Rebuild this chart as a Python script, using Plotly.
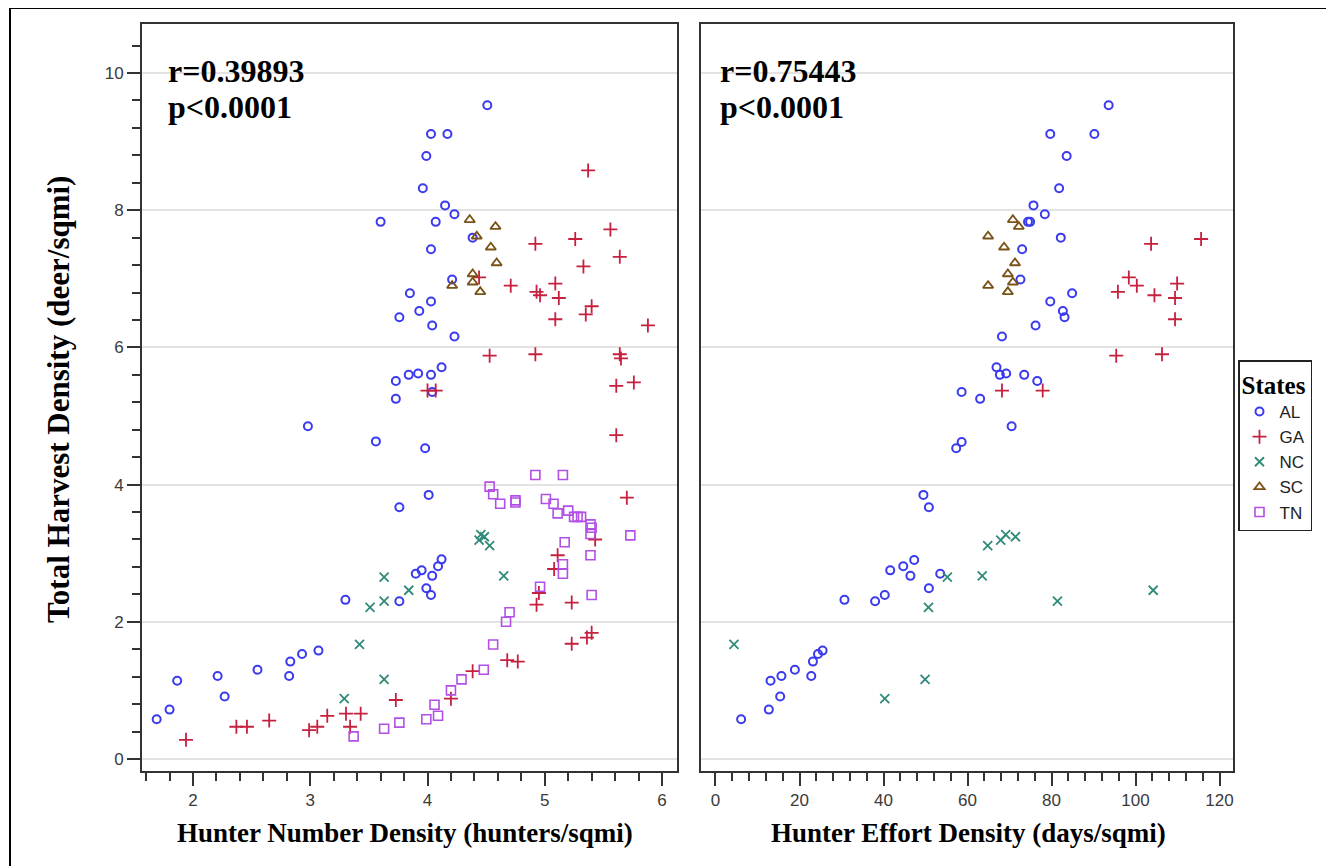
import plotly.graph_objects as go

# ---------------- data ----------------
# Left panel: Hunter Number Density (hunters/sqmi) vs Total Harvest Density
AL_num_x = [4.51, 4.03, 4.17, 3.99, 3.96, 4.15, 4.23, 3.60, 4.07, 4.385, 4.03, 4.21, 3.85, 4.03,
            3.93, 3.76, 4.04, 4.23, 4.12, 3.84, 3.92, 4.03, 3.73, 3.73, 4.04,
            2.98, 3.56, 3.98, 4.01, 3.76, 4.12, 4.09, 3.95, 3.90, 4.04, 3.99, 4.03, 3.30, 3.76,
            3.07, 2.93, 2.83, 2.82, 2.55, 2.21, 2.27, 1.865, 1.80, 1.69]
AL_num_y = [9.53, 9.11, 9.11, 8.79, 8.32, 8.07, 7.94, 7.83, 7.83, 7.60, 7.43, 6.99, 6.79, 6.67,
            6.53, 6.44, 6.32, 6.16, 5.71, 5.60, 5.62, 5.60, 5.51, 5.25, 5.35,
            4.85, 4.63, 4.53, 3.85, 3.67, 2.91, 2.81, 2.75, 2.70, 2.67, 2.49, 2.39, 2.32, 2.30,
            1.58, 1.53, 1.42, 1.21, 1.30, 1.21, 0.91, 1.14, 0.72, 0.58]

GA_num_x = [5.37, 5.56, 5.26, 4.92, 5.64, 5.33, 4.44, 4.71, 5.09, 4.93, 4.96, 5.12, 5.40, 5.35,
            5.09, 5.88, 4.53, 4.92, 5.64, 5.65, 5.61, 5.76, 4.00, 4.07,
            5.61, 5.70, 5.43, 5.11, 5.08, 4.95, 4.93, 5.23, 5.40, 5.36, 5.23, 4.68, 4.77, 4.385,
            4.20, 3.73, 3.145, 3.305, 3.43, 2.65, 2.37, 2.46, 2.99, 3.06, 3.34, 1.94]
GA_num_y = [8.58, 7.72, 7.58, 7.51, 7.32, 7.18, 7.02, 6.90, 6.93, 6.81, 6.76, 6.72, 6.60, 6.48,
            6.41, 6.32, 5.88, 5.90, 5.90, 5.84, 5.44, 5.49, 5.37, 5.37,
            4.72, 3.81, 3.20, 2.97, 2.77, 2.42, 2.25, 2.28, 1.84, 1.77, 1.68, 1.44, 1.42, 1.28,
            0.88, 0.86, 0.63, 0.66, 0.66, 0.56, 0.47, 0.47, 0.42, 0.47, 0.47, 0.28]

NC_num_x = [4.455, 4.485, 4.44, 4.53, 4.65, 3.63, 3.84, 3.63, 3.51, 3.42, 3.63, 3.29]
NC_num_y = [3.27, 3.24, 3.19, 3.11, 2.67, 2.65, 2.46, 2.30, 2.21, 1.67, 1.16, 0.88]

SC_num_x = [4.36, 4.58, 4.42, 4.54, 4.59, 4.385, 4.385, 4.21, 4.45]
SC_num_y = [7.86, 7.76, 7.62, 7.46, 7.23, 7.07, 6.95, 6.90, 6.81]

TN_num_x = [4.92, 5.155, 4.53, 4.56, 4.62, 4.75, 4.75, 5.01, 5.075, 5.11, 5.20, 5.25, 5.28, 5.31,
            5.39, 5.40, 5.39, 5.73, 5.17, 5.39, 5.155, 5.155, 4.96, 5.40, 4.70, 4.67, 4.56,
            4.48, 4.29, 4.20, 4.06, 4.09, 3.99, 3.76, 3.63, 3.37]
TN_num_y = [4.14, 4.14, 3.97, 3.86, 3.72, 3.77, 3.74, 3.79, 3.72, 3.58, 3.62, 3.53, 3.53, 3.53,
            3.42, 3.37, 3.28, 3.26, 3.16, 2.97, 2.84, 2.70, 2.51, 2.39, 2.14, 2.00, 1.67,
            1.30, 1.16, 1.00, 0.79, 0.63, 0.58, 0.53, 0.44, 0.33]

# Right panel: Hunter Effort Density (days/sqmi) vs Total Harvest Density
AL_eff_x = [93.6, 79.7, 90.2, 83.6, 81.8, 75.7, 78.4, 74.4, 74.9, 82.2, 73.0, 72.6, 84.9, 79.7,
            82.7, 83.1, 76.2, 68.2, 66.9, 67.7, 69.2, 73.5, 76.6, 58.6, 63.0,
            70.5, 58.6, 57.3, 49.5, 50.8, 47.3, 44.7, 41.6, 46.4, 53.5, 50.8, 40.3, 38.0, 30.7,
            25.5, 24.4, 23.2, 22.8, 18.9, 15.7, 15.4, 13.1, 12.7, 6.1]
AL_eff_y = [9.53, 9.11, 9.11, 8.79, 8.32, 8.07, 7.94, 7.83, 7.83, 7.60, 7.43, 6.99, 6.79, 6.67,
            6.53, 6.44, 6.32, 6.16, 5.71, 5.60, 5.62, 5.60, 5.51, 5.35, 5.25,
            4.85, 4.62, 4.53, 3.85, 3.67, 2.90, 2.81, 2.75, 2.67, 2.70, 2.49, 2.39, 2.30, 2.32,
            1.58, 1.53, 1.42, 1.21, 1.30, 1.21, 0.91, 1.14, 0.72, 0.58]

GA_eff_x = [115.6, 103.7, 98.4, 100.3, 109.9, 95.8, 104.5, 109.4, 109.4, 95.4, 106.3, 68.2, 77.9]
GA_eff_y = [7.58, 7.51, 7.02, 6.90, 6.93, 6.81, 6.76, 6.72, 6.41, 5.88, 5.90, 5.37, 5.37]

NC_eff_x = [4.4, 40.3, 49.9, 50.7, 55.2, 63.5, 64.8, 67.9, 69.1, 71.4, 81.4, 104.2]
NC_eff_y = [1.67, 0.88, 1.16, 2.21, 2.65, 2.67, 3.11, 3.19, 3.27, 3.24, 2.30, 2.46]

SC_eff_x = [70.8, 72.2, 64.9, 68.7, 71.3, 69.6, 70.8, 64.9, 69.6]
SC_eff_y = [7.86, 7.76, 7.62, 7.46, 7.23, 7.07, 6.95, 6.90, 6.81]

states = ["AL", "GA", "NC", "SC", "TN"]
y_ticks = [0, 2, 4, 6, 8, 10]
x1_ticks = [2, 3, 4, 5, 6]
x2_ticks = [0, 20, 40, 60, 80, 100, 120]
stats_left = ["r=0.39893", "p<0.0001"]
stats_right = ["r=0.75443", "p<0.0001"]

# ---------------- styling ----------------
OFF = 8  # page body margin in the browser
W, H = 1334 - OFF, 866 - OFF
colors = {"AL": "#3a3aef", "GA": "#c6203f", "NC": "#2f8a7a", "SC": "#7a5216", "TN": "#b24fe6"}
symbols = {"AL": "circle-open", "GA": "cross-thin-open", "NC": "x-thin-open",
           "SC": "triangle-up-open", "TN": "square-open"}
sizes = {"AL": 8, "GA": 10, "NC": 9, "SC": 9, "TN": 9}
widths = {"AL": 2, "GA": 1.8, "NC": 1.8, "SC": 1.8, "TN": 1.6}

left_data = {"AL": (AL_num_x, AL_num_y), "GA": (GA_num_x, GA_num_y), "NC": (NC_num_x, NC_num_y),
             "SC": (SC_num_x, SC_num_y), "TN": (TN_num_x, TN_num_y)}
right_data = {"AL": (AL_eff_x, AL_eff_y), "GA": (GA_eff_x, GA_eff_y), "NC": (NC_eff_x, NC_eff_y),
              "SC": (SC_eff_x, SC_eff_y)}

fig = go.Figure()
for s in states:
    x, y = left_data[s]
    fig.add_trace(go.Scatter(
        x=x, y=y, mode="markers", name=s, legendgroup=s, showlegend=True,
        marker=dict(symbol=symbols[s], size=sizes[s], color=colors[s],
                    line=dict(color=colors[s], width=widths[s])),
        xaxis="x", yaxis="y"))
for s in states:
    if s not in right_data:
        continue
    x, y = right_data[s]
    fig.add_trace(go.Scatter(
        x=x, y=y, mode="markers", name=s, legendgroup=s, showlegend=False,
        marker=dict(symbol=symbols[s], size=sizes[s], color=colors[s],
                    line=dict(color=colors[s], width=widths[s])),
        xaxis="x2", yaxis="y2"))

def px_x(p):
    return (p - OFF) / W

def px_y(p):
    return 1 - (p - OFF) / H

frame_top, frame_bot = 24, 771
ydom = [px_y(frame_bot), px_y(frame_top)]
yrange = [(759 - frame_bot) / 68.6, (759 - frame_top) / 68.6]

tickfont = dict(family="Liberation Sans, Arial, sans-serif", size=17, color="#3a3a3a")
axis_common = dict(showline=True, linecolor="#333333", linewidth=2, mirror=True,
                   ticks="outside", ticklen=13, tickwidth=1.5, tickcolor="#333333",
                   tickfont=tickfont, zeroline=False)
minor_common = dict(ticks="outside", ticklen=8, tickwidth=1.5, tickcolor="#333333", showgrid=False)

fig.update_layout(
    width=W, height=H,
    margin=dict(l=0, r=0, t=0, b=0),
    paper_bgcolor="white", plot_bgcolor="white",
    xaxis=dict(domain=[px_x(142), px_x(677)], range=[1.565, 6.128], anchor="y",
               tickvals=x1_ticks, showgrid=False,
               minor=dict(dtick=0.2, **minor_common),
               **axis_common),
    yaxis=dict(domain=ydom, range=yrange, anchor="x",
               tickvals=y_ticks, showgrid=True, gridcolor="#e3e3e3", gridwidth=1.5,
               minor=dict(dtick=0.4, **minor_common),
               **axis_common),
    xaxis2=dict(domain=[px_x(701), px_x(1233)], range=[-3.45, 123.2], anchor="y2",
                tickvals=x2_ticks, showgrid=False,
                minor=dict(dtick=4, **minor_common),
                **axis_common),
    yaxis2=dict(domain=ydom, range=yrange, anchor="x2", matches="y",
                showline=True, linecolor="#333333", linewidth=2, mirror=True,
                tickvals=y_ticks, showticklabels=False, ticks="",
                showgrid=True, gridcolor="#e3e3e3", gridwidth=1.5, zeroline=False),
    legend=dict(
        x=px_x(1238), y=px_y(360), xanchor="left", yanchor="top",
        bordercolor="#222222", borderwidth=1.5, bgcolor="white",
        title=dict(text="<b>States</b>",
                   font=dict(family="Liberation Serif, Times New Roman, serif", size=25, color="black")),
        font=dict(family="Liberation Sans, Arial, sans-serif", size=17, color="#222222"),
        itemsizing="trace", tracegroupgap=0, itemwidth=30,
    ),
)

serif_bold = dict(family="Liberation Serif, Times New Roman, serif", color="black")
annotations = [
    dict(text="<b>" + stats_left[0] + "</b>", xref="paper", yref="paper",
         x=px_x(166), y=px_y(71), xanchor="left", yanchor="middle",
         showarrow=False, font=dict(size=32, **serif_bold)),
    dict(text="<b>" + stats_left[1].replace("<", "&lt;") + "</b>", xref="paper", yref="paper",
         x=px_x(166), y=px_y(107), xanchor="left", yanchor="middle",
         showarrow=False, font=dict(size=32, **serif_bold)),
    dict(text="<b>" + stats_right[0] + "</b>", xref="paper", yref="paper",
         x=px_x(718), y=px_y(71), xanchor="left", yanchor="middle",
         showarrow=False, font=dict(size=32, **serif_bold)),
    dict(text="<b>" + stats_right[1].replace("<", "&lt;") + "</b>", xref="paper", yref="paper",
         x=px_x(718), y=px_y(107), xanchor="left", yanchor="middle",
         showarrow=False, font=dict(size=32, **serif_bold)),
    dict(text="<b>Total Harvest Density (deer/sqmi)</b>", textangle=-90,
         xref="paper", yref="paper", x=px_x(58), y=px_y(400), xanchor="center", yanchor="middle",
         showarrow=False, font=dict(size=31, **serif_bold)),
    dict(text="<b>Hunter Number Density (hunters/sqmi)</b>",
         xref="paper", yref="paper", x=px_x(405), y=px_y(833), xanchor="center", yanchor="middle",
         showarrow=False, font=dict(size=27, **serif_bold)),
    dict(text="<b>Hunter Effort Density (days/sqmi)</b>",
         xref="paper", yref="paper", x=px_x(968), y=px_y(833), xanchor="center", yanchor="middle",
         showarrow=False, font=dict(size=27, **serif_bold)),
]
fig.update_layout(annotations=annotations)

# outer border (top and left edges visible)
fig.add_shape(type="line", xref="paper", yref="paper", x0=px_x(10), x1=1, y0=1, y1=1,
              line=dict(color="black", width=2))
fig.add_shape(type="line", xref="paper", yref="paper", x0=px_x(10), x1=px_x(10), y0=0, y1=1,
              line=dict(color="black", width=2))

fig.write_html("out.html")
